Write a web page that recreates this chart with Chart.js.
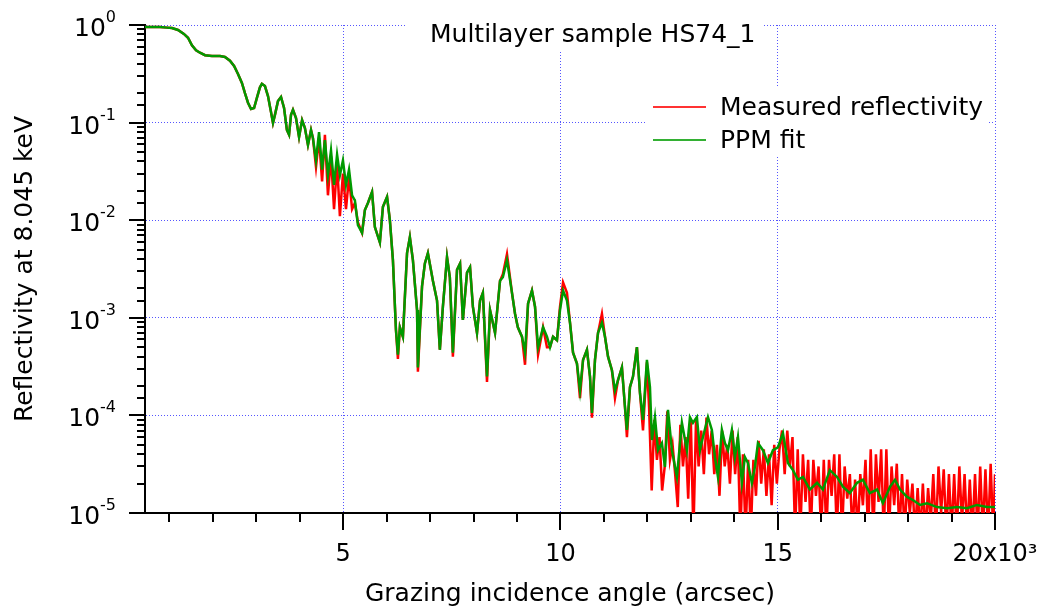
<!DOCTYPE html>
<html><head><meta charset="utf-8">
<script src="https://cdn.jsdelivr.net/npm/chart.js@4"></script>
<style>html,body{margin:0;padding:0;background:#fff}</style>
</head><body>
<canvas id="c" width="1045" height="609"></canvas>
<script>
const titleText = 'Multilayer sample HS74_1';
const seriesNames = ['Measured reflectivity', 'PPM fit'];
const xTitle = 'Grazing incidence angle (arcsec)';
const yTitle = 'Reflectivity at 8.045 keV';

// PPM fit
const angleFit = [
 440, 785, 945, 1060, 1200, 1335, 1430, 1520, 1615, 1705,
 1820, 1980, 2165, 2280, 2395, 2490, 2580, 2670, 2740, 2810,
 2880, 2950, 3015, 3085, 3130, 3200, 3270, 3340, 3385, 3430,
 3500, 3570, 3640, 3705, 3755, 3800, 3845, 3915, 3985, 4055,
 4120, 4190, 4260, 4305, 4375, 4445, 4515, 4580, 4650, 4720,
 4790, 4860, 4925, 4995, 5065, 5135, 5205, 5270, 5340, 5435,
 5500, 5570, 5665, 5730, 5845, 5915, 6010, 6075, 6145, 6215,
 6260, 6305, 6375, 6470, 6535, 6605, 6700, 6720, 6815, 6880,
 6950, 7065, 7160, 7225, 7295, 7390, 7455, 7525, 7620, 7690,
 7755, 7850, 7920, 7985, 8080, 8150, 8215, 8310, 8380, 8495,
 8610, 8675, 8770, 8885, 8955, 9020, 9115, 9185, 9255, 9345,
 9415, 9485, 9600, 9690, 9760, 9830, 9920, 9990, 10060, 10150,
 10220, 10290, 10380, 10450, 10520, 10610, 10680, 10725, 10795, 10865,
 10955, 11025, 11095, 11185, 11255, 11325, 11415, 11485, 11530, 11600,
 11670, 11760, 11830, 11900, 11990, 12060, 12105, 12175, 12245, 12335,
 12405, 12475, 12565, 12680, 12795, 12910, 12980, 13050, 13140, 13210,
 13280, 13395, 13485, 13555, 13625, 13715, 13785, 13855, 13945, 14015,
 14085, 14175, 14245, 14315, 14405, 14475, 14545, 14660, 14775, 14890,
 15005, 15120, 15235, 15350, 15465, 15580, 15740, 15905, 16040, 16200,
 16365, 16500, 16660, 16825, 16960, 17120, 17285, 17420, 17585, 17700,
 17815, 17975, 18110, 18275, 18435, 18665, 18895, 19125, 19355, 19585,
 19815, 20000];
const fitVals = [
 0.955, 0.955, 0.94, 0.93, 0.89, 0.81, 0.74, 0.62, 0.55, 0.52,
 0.49, 0.48, 0.48, 0.47, 0.43, 0.38, 0.315, 0.255, 0.20, 0.16,
 0.138, 0.141, 0.179, 0.23, 0.25, 0.237, 0.187, 0.128, 0.099, 0.12,
 0.166, 0.183, 0.141, 0.084, 0.075, 0.12, 0.135, 0.111, 0.071, 0.106,
 0.088, 0.059, 0.084, 0.069, 0.041, 0.080, 0.033, 0.066, 0.029, 0.052,
 0.023, 0.047, 0.029, 0.041, 0.023, 0.033, 0.018, 0.016, 0.0089, 0.0074,
 0.0127, 0.015, 0.0195, 0.0085, 0.0059, 0.0137, 0.0173, 0.010, 0.0039, 0.00075,
 0.00042, 0.0008, 0.00064, 0.0046, 0.0067, 0.0039, 0.0012, 0.00031, 0.0021, 0.0036,
 0.0046, 0.0024, 0.0015, 0.00047, 0.0013, 0.0042, 0.0026, 0.00044, 0.0031, 0.0036,
 0.00095, 0.0029, 0.0033, 0.0013, 0.0007, 0.0015, 0.0018, 0.00025, 0.0012, 0.0007,
 0.0024, 0.0026, 0.0039, 0.0018, 0.0011, 0.0008, 0.00064, 0.00044, 0.0014, 0.0019,
 0.0013, 0.0005, 0.0008, 0.00064, 0.0005, 0.00064, 0.00059, 0.0012, 0.0019, 0.0015,
 0.00089, 0.00044, 0.00034, 0.00018, 0.00037, 0.00047, 0.00025, 0.000106, 0.00037, 0.0007,
 0.00089, 0.00064, 0.0004, 0.00029, 0.00018, 0.00023, 0.00031, 0.000122, 0.000071, 0.000195,
 0.00025, 0.0005, 0.00017, 0.00009, 0.00037, 0.000195, 0.000056, 0.000096, 0.000044, 0.000052,
 0.0000296, 0.000114, 0.000044, 0.0000234, 0.000084, 0.000044, 0.000096, 0.000084, 0.000096, 0.000044,
 0.00006, 0.000096, 0.000071, 0.0000375, 0.0000234, 0.000071, 0.000052, 0.000044, 0.000071, 0.0000375,
 0.00006, 0.0000203, 0.0000375, 0.0000325, 0.0000203, 0.0000296, 0.000052, 0.000044, 0.0000325, 0.000044,
 0.000047, 0.000066, 0.0000325, 0.0000275, 0.0000219, 0.0000234, 0.0000174, 0.0000204, 0.0000174, 0.0000275,
 0.0000234, 0.0000186, 0.000016, 0.0000204, 0.0000219, 0.000016, 0.0000174, 0.0000126, 0.0000186, 0.0000219,
 0.0000174, 0.0000146, 0.0000136, 0.0000121, 0.0000126, 0.0000115, 0.0000112, 0.0000115, 0.0000112, 0.0000121,
 0.0000115, 0.0000115];

// Measured reflectivity
const angleMeas = [
 440, 785, 945, 1060, 1200, 1335, 1430, 1520, 1615, 1705,
 1820, 1980, 2165, 2280, 2395, 2490, 2580, 2670, 2740, 2810,
 2880, 2950, 3015, 3085, 3130, 3200, 3270, 3340, 3385, 3430,
 3500, 3570, 3640, 3705, 3755, 3800, 3845, 3915, 3985, 4055,
 4120, 4190, 4260, 4305, 4375, 4445, 4515, 4580, 4650, 4720,
 4790, 4860, 4925, 4995, 5065, 5135, 5205, 5270, 5340, 5435,
 5500, 5570, 5665, 5730, 5845, 5915, 6010, 6075, 6145, 6215,
 6260, 6305, 6375, 6470, 6535, 6605, 6700, 6720, 6815, 6880,
 6950, 7065, 7160, 7225, 7295, 7390, 7455, 7525, 7620, 7690,
 7755, 7850, 7920, 7985, 8080, 8150, 8215, 8310, 8380, 8495,
 8610, 8675, 8770, 8885, 8955, 9020, 9115, 9185, 9255, 9345,
 9415, 9485, 9600, 9690, 9760, 9830, 9920, 9990, 10060, 10150,
 10220, 10290, 10380, 10450, 10520, 10610, 10680, 10725, 10795, 10865,
 10955, 11025, 11095, 11185, 11255, 11325, 11415, 11485, 11530, 11600,
 11670, 11760, 11830, 11900, 11990, 12040,
 12100, 12160, 12220, 12280, 12340, 12400, 12460, 12520, 12580, 12640,
 12700, 12760, 12820, 12880, 12940, 13000, 13060, 13120, 13180, 13240,
 13300, 13360, 13420, 13480, 13540, 13600, 13660, 13720, 13780, 13840,
 13900, 13960, 14020, 14080, 14140, 14200, 14260, 14320, 14380, 14440,
 14500, 14560, 14620, 14680, 14740, 14800, 14860, 14920, 14980, 15040,
 15100, 15160, 15220, 15280, 15340, 15400, 15460, 15520, 15580, 15640,
 15700, 15760, 15820, 15880, 15940, 16000, 16060, 16120, 16180, 16240,
 16300, 16360, 16420, 16480, 16540, 16600, 16660, 16720, 16780, 16840,
 16900, 16960, 17020, 17080, 17140, 17200, 17260, 17320, 17380, 17440,
 17500, 17560, 17620, 17680, 17740, 17800, 17860, 17920, 17980, 18040,
 18100, 18160, 18220, 18280, 18340, 18400, 18460, 18520, 18580, 18640,
 18700, 18760, 18820, 18880, 18940, 19000, 19060, 19120, 19180, 19240,
 19300, 19360, 19420, 19480, 19540, 19600, 19660, 19720, 19780, 19840,
 19900, 19960, 20000];
const measVals = [
 0.955, 0.955, 0.94, 0.93, 0.89, 0.81, 0.74, 0.62, 0.55, 0.52,
 0.49, 0.48, 0.48, 0.47, 0.43, 0.38, 0.315, 0.255, 0.20, 0.16,
 0.138, 0.141, 0.179, 0.23, 0.25, 0.237, 0.187, 0.128, 0.099, 0.12,
 0.166, 0.183, 0.141, 0.084, 0.075, 0.12, 0.135, 0.111, 0.071, 0.106,
 0.088, 0.059, 0.084, 0.069, 0.035, 0.070, 0.025, 0.075, 0.018, 0.045,
 0.013, 0.038, 0.011, 0.030, 0.013, 0.028, 0.013, 0.015, 0.0095, 0.0074,
 0.0127, 0.015, 0.0195, 0.0085, 0.0059, 0.0137, 0.0173, 0.010, 0.0039, 0.00075,
 0.00038, 0.0008, 0.00064, 0.0046, 0.0067, 0.0039, 0.0012, 0.00028, 0.0021, 0.0036,
 0.0046, 0.0024, 0.0015, 0.00047, 0.0013, 0.0042, 0.0026, 0.0004, 0.0031, 0.0036,
 0.00095, 0.0029, 0.0033, 0.0013, 0.0007, 0.0015, 0.0018, 0.00022, 0.0012, 0.0007,
 0.0024, 0.0028, 0.0045, 0.0018, 0.0011, 0.0008, 0.00064, 0.00033, 0.0014, 0.0019,
 0.0013, 0.00042, 0.0008, 0.0005, 0.0005, 0.00064, 0.00059, 0.0013, 0.0023, 0.0018,
 0.00089, 0.00044, 0.00034, 0.00015, 0.00037, 0.00047, 0.00025, 0.000095, 0.00037, 0.0007,
 0.0011, 0.00064, 0.0004, 0.00029, 0.00015, 0.00023, 0.00031, 0.000122, 0.00006, 0.000195,
 0.00025, 0.0005, 0.00017, 0.00007, 0.00035, 0.00012,
 0.000017, 0.00009, 0.000035, 0.00006, 0.000017, 0.00003, 0.00011, 0.000035, 0.00005, 0.000025,
 0.0000115, 0.00008, 0.00003, 0.00006, 0.000014, 0.00009, 0.000006, 0.00009, 0.00003, 0.00007,
 0.000025, 0.000095, 0.00004, 0.00007, 0.000025, 0.00005, 0.000015, 0.00007, 0.00003, 0.00005,
 0.00002, 0.00007, 0.000025, 0.00006, 0.000006, 0.00004, 0.000006, 0.000035, 0.000006, 0.000035,
 0.000015, 0.000055, 0.00002, 0.000045, 0.000015, 0.00004, 0.000012, 0.00005, 0.00002, 0.000045,
 0.00007, 0.000025, 0.00007, 0.00003, 0.00006, 0.000006, 0.000045, 0.000006, 0.00004, 0.000013,
 0.000035, 0.000006, 0.000035, 0.000015, 0.00003, 0.000006, 0.000035, 0.000006, 0.000035, 0.000015,
 0.00004, 0.000006, 0.00004, 0.000006, 0.00003, 0.000014, 0.000025, 0.000006, 0.000022, 0.000006,
 0.000025, 0.000012, 0.000035, 0.000006, 0.000045, 0.000006, 0.00004, 0.000013, 0.000045, 0.000006,
 0.000045, 0.000006, 0.00003, 0.000012, 0.000032, 0.000006, 0.000025, 0.000006, 0.000022, 0.00001,
 0.00002, 0.000006, 0.000018, 0.000006, 0.00002, 0.000006, 0.000018, 0.000008, 0.000025, 0.000006,
 0.00003, 0.00001, 0.000028, 0.000006, 0.000025, 0.000006, 0.000025, 0.000006, 0.00003, 0.000008,
 0.000025, 0.000006, 0.000022, 0.000006, 0.000025, 0.000006, 0.00003, 0.000006, 0.000028, 0.000006,
 0.000032, 0.000006, 0.000025];

const xMin = 440, xMax = 20000, xStep = 1000, xMajorStep = 5000, yMin = 1e-5, yMax = 1;
const FONT = 'DejaVu Sans';
const SUP = {'0':'\u2070','1':'\u00b9','2':'\u00b2','3':'\u00b3','4':'\u2074','5':'\u2075','6':'\u2076','7':'\u2077','8':'\u2078','9':'\u2079','-':'\u207b'};
const sup = s => String(s).split('').map(c => SUP[c] || c).join('');
const isPow10 = v => v > 0 && Math.abs(Math.log10(v) - Math.round(Math.log10(v))) < 1e-6;
const isMajorX = v => Math.abs(v % xMajorStep) < 1e-6;
const GRID = '#5555ff';

const pts = (xs, ys) => xs.map((x, i) => ({x, y: ys[i]}));

// tick marks (major + minor) and log-axis labels with raised exponents
const axisDecor = {
  id: 'axisDecor',
  afterDraw(chart) {
    const ctx = chart.ctx, xs = chart.scales.x, ys = chart.scales.y, a = chart.chartArea;
    ctx.save();
    ctx.strokeStyle = '#000'; ctx.lineWidth = 2; ctx.lineCap = 'butt';
    xs.ticks.forEach(t => {
      const px = Math.round(xs.getPixelForValue(t.value));
      const len = isMajorX(t.value) ? 17 : 9;
      ctx.beginPath(); ctx.moveTo(px, a.bottom); ctx.lineTo(px, a.bottom + len); ctx.stroke();
    });
    ys.ticks.forEach(t => {
      const py = Math.round(ys.getPixelForValue(t.value));
      const len = isPow10(t.value) ? 16 : 8;
      ctx.beginPath(); ctx.moveTo(a.left, py); ctx.lineTo(a.left - len, py); ctx.stroke();
      if (isPow10(t.value)) {
        const e = String(Math.round(Math.log10(t.value)));
        const right = a.left - 29;
        ctx.fillStyle = '#000';
        ctx.textBaseline = 'alphabetic';
        ctx.font = '16px "' + FONT + '"';
        const we = ctx.measureText(e).width;
        ctx.textAlign = 'left';
        ctx.fillText(e, right - we, py - 3);
        ctx.font = '25px "' + FONT + '"';
        ctx.textAlign = 'right';
        ctx.fillText('10', right - we, py + 11);
      }
    });
    ctx.restore();
  }
};

const insetTexts = {
  id: 'insetTexts',
  afterDraw(chart) {
    const ctx = chart.ctx;
    ctx.save();
    ctx.fillStyle = '#fff';
    ctx.fillRect(407, 18, 356, 32);
    ctx.fillStyle = '#000';
    ctx.font = '25px "' + FONT + '"';
    ctx.textBaseline = 'middle'; ctx.textAlign = 'left';
    ctx.fillText(titleText, 430, 35);
    ctx.fillStyle = '#fff';
    ctx.fillRect(647, 88, 341, 69);
    const ys = [107, 140];
    [0, 1].forEach((di, k) => {
      const ds = chart.data.datasets[di];
      ctx.strokeStyle = ds.legendColor || ds.borderColor; ctx.lineWidth = 2;
      ctx.beginPath(); ctx.moveTo(653, ys[k]); ctx.lineTo(706, ys[k]); ctx.stroke();
      ctx.fillStyle = '#000';
      ctx.fillText(ds.label, 720, ys[k] + 1);
    });
    ctx.restore();
  }
};

new Chart(document.getElementById('c'), {
  type: 'line',
  data: {
    datasets: [
      { label: seriesNames[0], data: pts(angleMeas, measVals), borderColor: '#ff0000', legendColor: '#ff3333',
        borderWidth: 2.5, pointRadius: 0, tension: 0, order: 2 },
      { label: seriesNames[1], data: pts(angleFit, fitVals), borderColor: '#009a00', legendColor: '#33b033',
        borderWidth: 2.5, pointRadius: 0, tension: 0, order: 1 }
    ]
  },
  options: {
    responsive: false, animation: false, devicePixelRatio: 1,
    layout: { padding: { left: 0, right: 50, top: 25, bottom: 0 } },
    plugins: { legend: { display: false }, tooltip: { enabled: false }, title: { display: false } },
    scales: {
      x: {
        type: 'linear', min: xMin, max: xMax,
        afterBuildTicks(s) {
          const t = [];
          for (let v = Math.ceil(xMin / xStep) * xStep; v <= xMax; v += xStep) t.push({ value: v });
          s.ticks = t;
        },
        afterFit(s) { s.height = 96; s.paddingLeft = 0; s.paddingRight = 0; },
        ticks: {
          autoSkip: false, maxRotation: 0, minRotation: 0, padding: 27,
          color: '#000', font: { family: FONT, size: 24 },
          callback(v, i, ticks) {
            if (!isMajorX(v)) return '';
            return (v / 1000) + (i === ticks.length - 1 ? 'x10' + sup(3) : '');
          }
        },
        grid: { drawTicks: false, lineWidth: 1, color: c => (c.tick && isMajorX(c.tick.value)) ? GRID : 'rgba(0,0,0,0)' },
        border: { display: true, color: '#000', width: 2, dash: [1, 2] },
        title: { display: true, text: xTitle, color: '#000', font: { family: FONT, size: 25 }, padding: { top: 0, bottom: 0 } }
      },
      y: {
        type: 'logarithmic', min: yMin, max: yMax,
        afterFit(s) { s.width = 145; s.paddingTop = 0; s.paddingBottom = 0; },
        ticks: { display: false, autoSkip: false },
        grid: { drawTicks: false, lineWidth: 1, color: c => (c.tick && isPow10(c.tick.value)) ? GRID : 'rgba(0,0,0,0)' },
        border: { display: true, color: '#000', width: 2, dash: [1, 2] },
        title: { display: true, text: yTitle, color: '#000', font: { family: FONT, size: 25 }, padding: { top: 10, bottom: 0 } }
      }
    }
  },
  plugins: [axisDecor, insetTexts]
});
</script>
</body></html>
